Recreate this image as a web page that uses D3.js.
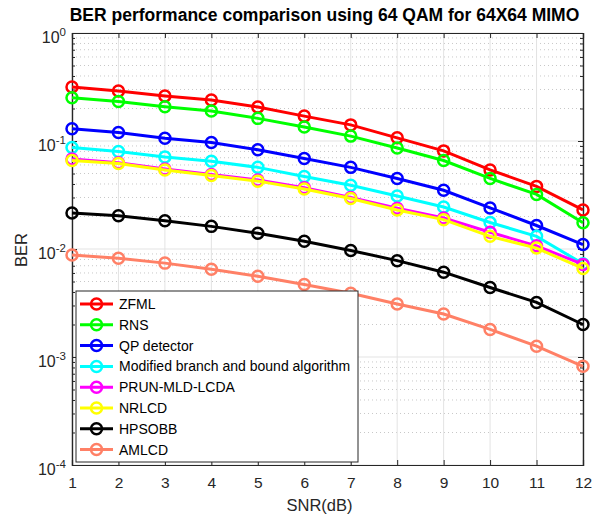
<!DOCTYPE html>
<html>
<head>
<meta charset="utf-8">
<script src="https://cdn.jsdelivr.net/npm/d3@7"></script>
<style>
  body { margin: 0; background: #fff; }
  text { font-family: Arial, "Liberation Sans", Helvetica, sans-serif; }
</style>
</head>
<body>
<div class="graph"></div>
<script>
var snr = [1, 2, 3, 4, 5, 6, 7, 8, 9, 10, 11, 12];
var xTicks = [1, 2, 3, 4, 5, 6, 7, 8, 9, 10, 11, 12];
var yTicks = [1e-4, 1e-3, 1e-2, 1e-1, 1];

var names = ['ZFML', 'RNS', 'QP detector', 'Modified branch and bound algorithm',
  'PRUN-MLD-LCDA', 'NRLCD', 'HPSOBB', 'AMLCD'];
var colors = ['#ff0000', '#00ff00', '#0000ff', '#00ffff', '#ff00ff', '#ffff00', '#000000', '#ff8066'];

var zfml  = [0.316, 0.29, 0.261, 0.24, 0.206, 0.170, 0.141, 0.107, 0.081, 0.054, 0.038, 0.023];
var rns   = [0.252, 0.232, 0.208, 0.190, 0.162, 0.135, 0.111, 0.086, 0.066, 0.045, 0.032, 0.0175];
var qp    = [0.130, 0.120, 0.106, 0.097, 0.083, 0.069, 0.057, 0.045, 0.035, 0.024, 0.0165, 0.011];
var mbb   = [0.087, 0.080, 0.071, 0.065, 0.057, 0.047, 0.039, 0.031, 0.0245, 0.0176, 0.0131, 0.0073];
var prun  = [0.068, 0.063, 0.055, 0.049, 0.0435, 0.037, 0.030, 0.0238, 0.0194, 0.0143, 0.0107, 0.0072];
var nrlcd = [0.066, 0.062, 0.054, 0.048, 0.0425, 0.036, 0.0293, 0.023, 0.0187, 0.0131, 0.0102, 0.0066];
var hpsobb= [0.0215, 0.0203, 0.0183, 0.0162, 0.0140, 0.0118, 0.0097, 0.0078, 0.0061, 0.0044, 0.0032, 0.0020];
var amlcd = [0.0088, 0.0082, 0.0074, 0.0065, 0.0056, 0.0047, 0.0039, 0.0031, 0.0025, 0.0018, 0.00126, 0.00082];
var series = [zfml, rns, qp, mbb, prun, nrlcd, hpsobb, amlcd];

var width = 597, height = 517;
var plotL = 72, plotR = 583, plotT = 33, plotB = 465;

var svg = d3.select('.graph').append('svg')
  .attr('width', width)
  .attr('height', height);

var xScale = d3.scaleLinear().domain([1, 12]).range([plotL, plotR]);
var yScale = d3.scaleLog().domain([1e-4, 1]).range([plotB, plotT]);

// minor log values for grid / ticks
var minor = [];
yTicks.slice(0, -1).forEach(function (d) {
  for (var k = 2; k <= 9; k++) minor.push(d * k);
});

var grid = svg.append('g');
grid.selectAll('.minor').data(minor).enter().append('line')
  .attr('x1', plotL).attr('x2', plotR)
  .attr('y1', d => yScale(d)).attr('y2', d => yScale(d))
  .attr('stroke', '#c8c8c8').attr('stroke-width', 1)
  .attr('stroke-dasharray', '1,3');
grid.selectAll('.vx').data(xTicks).enter().append('line')
  .attr('x1', d => xScale(d)).attr('x2', d => xScale(d))
  .attr('y1', plotT).attr('y2', plotB)
  .attr('stroke', '#e3e3e3').attr('stroke-width', 1);
grid.selectAll('.hy').data(yTicks).enter().append('line')
  .attr('x1', plotL).attr('x2', plotR)
  .attr('y1', d => yScale(d)).attr('y2', d => yScale(d))
  .attr('stroke', '#e3e3e3').attr('stroke-width', 1);

// axes (ticks inward, mirrored)
var xAxis = svg.append('g').attr('transform', 'translate(0,' + plotB + ')')
  .call(d3.axisBottom(xScale).tickValues(xTicks).tickSize(-5).tickPadding(12).tickFormat(d3.format('d')));
svg.append('g').attr('transform', 'translate(0,' + plotT + ')')
  .call(d3.axisTop(xScale).tickValues(xTicks).tickSize(-5).tickFormat(''));
svg.append('g').attr('transform', 'translate(' + plotL + ',0)')
  .call(d3.axisLeft(yScale).tickValues(yTicks).tickSize(-5).tickFormat(''));
svg.append('g').attr('transform', 'translate(' + plotR + ',0)')
  .call(d3.axisRight(yScale).tickValues(yTicks).tickSize(-5).tickFormat(''));
svg.append('g').attr('transform', 'translate(' + plotL + ',0)')
  .call(d3.axisLeft(yScale).tickValues(minor).tickSize(-3).tickFormat(''));
svg.append('g').attr('transform', 'translate(' + plotR + ',0)')
  .call(d3.axisRight(yScale).tickValues(minor).tickSize(-3).tickFormat(''));

svg.selectAll('.domain').attr('stroke', '#262626').attr('stroke-width', 1.2);
svg.selectAll('.tick line').attr('stroke', '#262626');
xAxis.selectAll('.tick text').attr('font-size', 15.5).attr('fill', '#262626');

// y tick labels as 10^n
yTicks.forEach(function (d) {
  var t = svg.append('text')
    .attr('x', plotL - 6)
    .attr('y', yScale(d) + 10)
    .attr('text-anchor', 'end')
    .attr('font-size', 16)
    .attr('fill', '#262626');
  t.append('tspan').text('10');
  t.append('tspan').attr('dy', -7).attr('font-size', 11.5).text(Math.round(Math.log10(d)));
});

// lines and markers
var line = d3.line().x((d, i) => xScale(snr[i])).y(d => yScale(d));
series.forEach(function (s, k) {
  var g = svg.append('g');
  g.append('path').datum(s)
    .attr('d', line)
    .attr('fill', 'none')
    .attr('stroke', colors[k])
    .attr('stroke-width', 3);
  g.selectAll('circle').data(s).enter().append('circle')
    .attr('cx', (d, i) => xScale(snr[i]))
    .attr('cy', d => yScale(d))
    .attr('r', 5.5)
    .attr('fill', 'none')
    .attr('stroke', colors[k])
    .attr('stroke-width', 2.5);
});

// legend
var lx = 76, ly = 291, lw = 282, lh = 171, step = 20.8;
var legend = svg.append('g');
legend.append('rect')
  .attr('x', lx).attr('y', ly).attr('width', lw).attr('height', lh)
  .attr('fill', '#fff').attr('stroke', '#262626').attr('stroke-width', 1);
names.forEach(function (n, k) {
  var yy = ly + 13 + k * step;
  legend.append('line')
    .attr('x1', lx + 4).attr('x2', lx + 37)
    .attr('y1', yy).attr('y2', yy)
    .attr('stroke', colors[k]).attr('stroke-width', 3);
  legend.append('circle')
    .attr('cx', lx + 20.5).attr('cy', yy).attr('r', 5.5)
    .attr('fill', 'none').attr('stroke', colors[k]).attr('stroke-width', 2.5);
  legend.append('text')
    .attr('x', lx + 43).attr('y', yy + 5)
    .attr('font-size', 14).attr('fill', '#000')
    .text(n);
});

// titles
svg.append('text')
  .attr('x', (plotL + plotR) / 2 - 3).attr('y', 21)
  .attr('text-anchor', 'middle')
  .attr('font-size', 17.5).attr('font-weight', 'bold')
  .text('BER performance comparison using 64 QAM for 64X64 MIMO');
svg.append('text')
  .attr('x', (plotL + plotR) / 2 - 8).attr('y', 511)
  .attr('text-anchor', 'middle')
  .attr('font-size', 16.5).attr('fill', '#262626')
  .text('SNR(dB)');
svg.append('text')
  .attr('transform', 'translate(27,' + ((plotT + plotB) / 2 + 1) + ') rotate(-90)')
  .attr('text-anchor', 'middle')
  .attr('font-size', 16.5).attr('fill', '#262626')
  .text('BER');
</script>
</body>
</html>
